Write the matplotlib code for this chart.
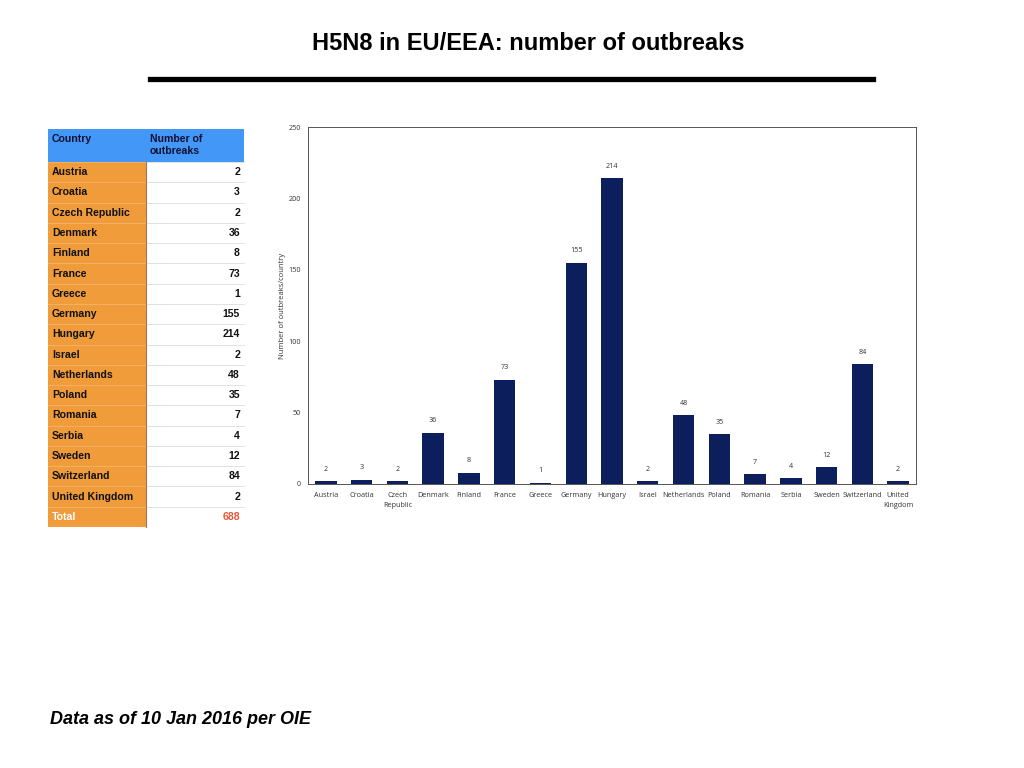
import matplotlib
matplotlib.use("Agg")
import matplotlib.pyplot as plt
from matplotlib.patches import Rectangle
from matplotlib.lines import Line2D

countries = ["Austria", "Croatia", "Czech Republic", "Denmark", "Finland", "France",
             "Greece", "Germany", "Hungary", "Israel", "Netherlands", "Poland",
             "Romania", "Serbia", "Sweden", "Switzerland", "United Kingdom"]
bar_labels = ["Austria", "Croatia", "Czech\nRepublic", "Denmark", "Finland", "France",
              "Greece", "Germany", "Hungary", "Israel", "Netherlands", "Poland",
              "Romania", "Serbia", "Sweden", "Switzerland", "United\nKingdom"]
outbreaks = [2, 3, 2, 36, 8, 73, 1, 155, 214, 2, 48, 35, 7, 4, 12, 84, 2]
total = 688

W, H = 1024, 768
fig = plt.figure(figsize=(W / 100, H / 100), dpi=100)
fig.patch.set_facecolor("white")

def fx(px):
    return px / W

def fy(py):
    return 1 - py / H

# title and rule
fig.text(fx(528), fy(43), "H5N8 in EU/EEA: number of outbreaks", ha="center", va="center",
         fontsize=17, fontweight="bold", family="Liberation Sans")
fig.add_artist(Line2D([fx(150), fx(873)], [fy(78.5), fy(78.5)], color="black", lw=3.8,
                      transform=fig.transFigure))

# footer
fig.text(fx(50), fy(720), "Data as of 10 Jan 2016 per OIE", ha="left", va="center",
         fontsize=13, fontweight="bold", style="italic", family="Liberation Sans")

# table
tab = fig.add_axes([0, 0, 1, 1])
tab.set_xlim(0, W)
tab.set_ylim(H, 0)
tab.axis("off")
tab.patch.set_alpha(0)

x0, xdiv, x1 = 48, 146, 244
head_top, head_bot = 129, 162
row_h = (527 - 162) / 18
blue = "#4397f7"
orange = "#f09c3a"
tfont = dict(family="Liberation Sans", fontweight="bold", fontsize=7.6)

tab.add_patch(Rectangle((x0, head_top), x1 - x0, head_bot - head_top, color=blue, lw=0))
tab.text(x0 + 4, head_top + 10, "Country", va="center", ha="left", color="#111133", **tfont)
tab.text(xdiv + 4, head_top + 16, "Number of\noutbreaks", va="center", ha="left",
         color="#111133", linespacing=1.15, **tfont)

rows = list(zip(countries, [str(v) for v in outbreaks])) + [("Total", str(total))]
for i, (name, val) in enumerate(rows):
    top = head_bot + i * row_h
    tab.add_patch(Rectangle((x0, top), xdiv - x0, row_h, color=orange, lw=0))
    tab.add_line(Line2D([x0, xdiv], [top, top], color="#f4b56a", lw=0.6))
    tab.add_line(Line2D([xdiv, x1], [top, top], color="#dddddd", lw=0.6))
    is_total = name == "Total"
    tab.text(x0 + 4, top + row_h / 2, name, va="center", ha="left",
             color="white" if is_total else "#111111", **tfont)
    tab.text(x1 - 4, top + row_h / 2, val, va="center", ha="right",
             color="#e8553a" if is_total else "#111111", **tfont)
tab.add_line(Line2D([xdiv, xdiv], [head_bot, 527], color="#9a7a50", lw=0.8))

# bar chart
ax = fig.add_axes([fx(308), fy(484), fx(916) - fx(308), (484 - 127) / H])
xs = range(len(outbreaks))
bars = ax.bar(xs, outbreaks, width=0.6, color="#0c1f5c")
ax.set_ylim(0, 250)
ax.set_xlim(-0.5, len(outbreaks) - 0.5)
ax.set_yticks([0, 50, 100, 150, 200, 250])
ax.set_xticks(list(xs))
ax.set_xticklabels(bar_labels, fontsize=5.2, family="Open Sans", color="#333333",
                   linespacing=1.6)
for lbl in ax.get_yticklabels():
    lbl.set_fontsize(5.2)
    lbl.set_family("Open Sans")
    lbl.set_color("#333333")
ax.tick_params(axis="x", length=0, pad=6)
ax.tick_params(axis="y", length=0, pad=5)
ax.set_ylabel("Number of outbreaks/country", fontsize=5.5, family="Open Sans",
              color="#333333")
ax.yaxis.set_label_coords(-0.036, 0.5)
for s in ax.spines.values():
    s.set_color("#555555")
    s.set_linewidth(0.7)
ax.bar_label(bars, labels=[str(v) for v in outbreaks], padding=6, fontsize=5.2,
             family="Open Sans", color="#333333")

fig.savefig("out.png", dpi=100)
